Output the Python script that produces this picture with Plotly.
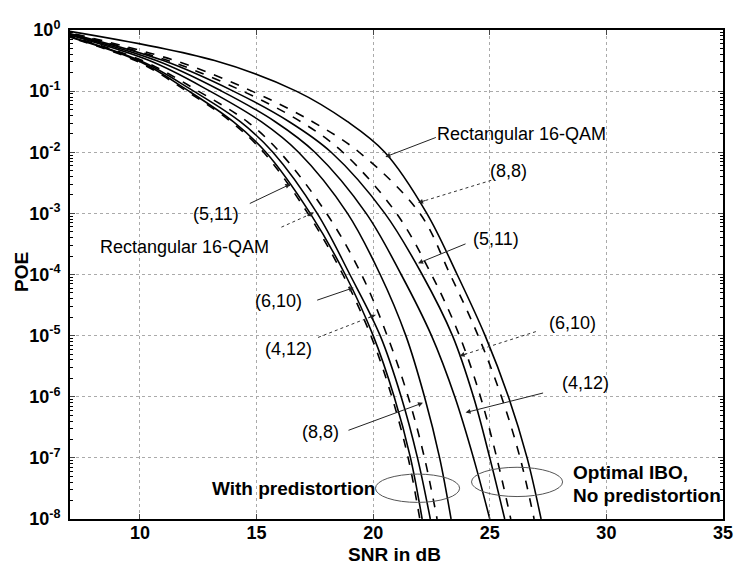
import plotly.graph_objects as go

# ---------------- data ----------------
poe_levels = [1.0, 0.316, 1e-1, 0.0316, 1e-2, 1e-3, 1e-4, 1e-5, 1e-6, 1e-7, 1e-8]

# With predistortion
snr_pd_511 = [5.9, 9.8, 12.0, 13.9, 15.3, 17.2, 18.7, 19.9, 20.8, 21.5, 22.0]      # dashed
snr_pd_rect = [5.95, 9.9, 12.1, 14.0, 15.4, 17.3, 18.8, 20.0, 20.9, 21.6, 22.1]    # solid
snr_pd_610 = [6.0, 10.0, 12.3, 14.3, 15.7, 17.6, 19.0, 20.3, 21.2, 21.9, 22.45]    # solid
snr_pd_412 = [6.1, 10.1, 12.5, 14.6, 16.0, 18.0, 19.5, 20.6, 21.5, 22.2, 22.74]    # dashed
snr_pd_88 = [6.2, 10.4, 13.0, 15.2, 16.8, 18.9, 20.3, 21.4, 22.2, 22.85, 23.34]    # solid

# Optimal IBO, no predistortion
snr_np_412 = [6.3, 10.7, 13.5, 15.8, 17.5, 19.7, 21.2, 22.5, 23.5, 24.3, 25.0]     # solid
snr_np_511 = [6.4, 11.0, 14.0, 16.4, 18.2, 20.5, 22.1, 23.4, 24.3, 25.0, 25.64]    # solid
snr_np_610 = [6.45, 11.2, 14.4, 16.9, 18.7, 21.0, 22.5, 23.7, 24.6, 25.3, 25.9]    # dashed
snr_np_88 = [6.5, 11.5, 14.8, 17.4, 19.4, 22.0, 23.3, 24.5, 25.5, 26.3, 26.9]      # dashed
snr_np_rect = [6.65, 13.2, 16.7, 18.9, 20.5, 22.3, 23.6, 24.8, 25.8, 26.6, 27.2]   # solid

x_ticks = [10, 15, 20, 25, 30, 35]
y_tick_vals = [1, 1e-1, 1e-2, 1e-3, 1e-4, 1e-5, 1e-6, 1e-7, 1e-8]
y_tick_text = ["10<sup>0</sup>", "10<sup>-1</sup>", "10<sup>-2</sup>", "10<sup>-3</sup>",
               "10<sup>-4</sup>", "10<sup>-5</sup>", "10<sup>-6</sup>", "10<sup>-7</sup>",
               "10<sup>-8</sup>"]

curves = [
    (snr_pd_511, "dash"), (snr_pd_rect, "solid"), (snr_pd_610, "solid"),
    (snr_pd_412, "dash"), (snr_pd_88, "solid"),
    (snr_np_412, "solid"), (snr_np_511, "solid"), (snr_np_610, "dash"),
    (snr_np_88, "dash"), (snr_np_rect, "solid"),
]

# ---------------- figure ----------------
# The page body has an 8px margin, so the figure is drawn 8px in from the
# window corner; all positions below are given in window pixels.
OFF = 8
W, H = 743 - OFF, 571 - OFF
L, R, T, B = 69.5, 729, 18, 519           # plot area in window pixels
FONT = "Liberation Sans, Arial, sans-serif"

def px(xp):
    return (xp - L) / (R - L)

def py(yp):
    return 1 - (yp - T) / (B - T)

fig = go.Figure()
for snr, dash in curves:
    fig.add_trace(go.Scatter(
        x=snr, y=poe_levels, mode="lines",
        line=dict(color="black", width=1.6, dash=dash, shape="spline", smoothing=1.0),
        showlegend=False, hoverinfo="skip"))

annotations = []
shapes = []

def text(t, x, y, bold=False, anchor="center", size=18):
    annotations.append(dict(
        text=("<b>%s</b>" % t) if bold else t, x=px(x), y=py(y), xref="paper", yref="paper",
        showarrow=False, xanchor=anchor, yanchor="middle",
        font=dict(family=FONT, size=size, color="black")))

def arrow(tail, head, dashed=False):
    if dashed:
        shapes.append(dict(type="line", xref="paper", yref="paper",
                           x0=px(tail[0]), y0=py(tail[1]), x1=px(head[0]), y1=py(head[1]),
                           line=dict(color="#333", width=1, dash="dot")))
        dx, dy = tail[0] - head[0], tail[1] - head[1]
        n = (dx * dx + dy * dy) ** 0.5
        annotations.append(dict(x=px(head[0]), y=py(head[1]), xref="paper", yref="paper",
                                ax=dx / n * 9, ay=dy / n * 9, text="", showarrow=True,
                                arrowhead=2, arrowsize=1, arrowwidth=1, arrowcolor="#222"))
    else:
        annotations.append(dict(x=px(head[0]), y=py(head[1]), xref="paper", yref="paper",
                                ax=tail[0] - head[0], ay=tail[1] - head[1], text="",
                                showarrow=True, arrowhead=2, arrowsize=1, arrowwidth=1,
                                arrowcolor="#222"))

# right group (no predistortion)
text("Rectangular 16-QAM", 525, 125)
arrow((440, 128), (388, 148))
text("(8,8)", 512, 162)
arrow((495, 172), (421, 195), dashed=True)
text("(5,11)", 500, 232)
arrow((470, 237), (421, 257))
text("(6,10)", 577, 318)
arrow((540, 327), (463, 352), dashed=True)
text("(4,12)", 590, 380)
arrow((548, 390), (469, 410))

# left group (with predistortion)
text("(5,11)", 217, 207)
arrow((250, 196), (292, 176))
arrow((283, 220), (316, 205), dashed=True)
text("Rectangular 16-QAM", 185, 240)
text("(6,10)", 280, 296)
arrow((318, 295), (356, 282))
text("(4,12)", 290, 345)
arrow((320, 333), (378, 310), dashed=True)
text("(8,8)", 322, 430)
arrow((350, 428), (426, 400))

text("With predistortion", 295, 488, bold=True, size=19)
text("Optimal IBO,", 575, 471, bold=True, anchor="left", size=19)
text("No predistortion", 575, 495, bold=True, anchor="left", size=19)

# ellipses
shapes.append(dict(type="circle", xref="paper", yref="paper",
                   x0=px(378), x1=px(463), y0=py(502), y1=py(473),
                   line=dict(color="#555", width=1)))
shapes.append(dict(type="circle", xref="paper", yref="paper",
                   x0=px(475), x1=px(567), y0=py(496), y1=py(466),
                   line=dict(color="#555", width=1)))

# axis titles
text("SNR in dB", 397, 555, bold=True, size=19)
annotations.append(dict(text="<b>POE</b>", x=px(20), y=py(266), xref="paper", yref="paper",
                        showarrow=False, textangle=-90, xanchor="center", yanchor="middle",
                        font=dict(family=FONT, size=19, color="black")))

fig.update_layout(
    width=W, height=H,
    margin=dict(l=L - OFF, r=W - (R - OFF), t=T - OFF, b=H - (B - OFF)),
    paper_bgcolor="white", plot_bgcolor="white",
    annotations=annotations, shapes=shapes,
    font=dict(family=FONT, color="black"),
    xaxis=dict(range=[7, 35], tickmode="array", tickvals=x_ticks,
               ticktext=["<b>%d</b>" % v for v in x_ticks],
               tickfont=dict(size=18, family=FONT), ticks="inside", ticklen=5,
               ticklabelstandoff=-4, ticklabeloverflow="allow",
               showline=True, linewidth=2, linecolor="black", mirror="ticks",
               showgrid=True, gridcolor="#aaa", griddash="dot", gridwidth=1,
               zeroline=False),
    yaxis=dict(type="log", range=[-8, 0], tickmode="array", tickvals=y_tick_vals,
               ticktext=["<b>%s</b>" % t for t in y_tick_text],
               tickfont=dict(size=18, family=FONT), ticks="inside", ticklen=5,
               ticklabelstandoff=4, ticklabeloverflow="allow",
               showline=True, linewidth=2, linecolor="black", mirror="ticks",
               showgrid=True, gridcolor="#aaa", griddash="dot", gridwidth=1,
               minor=dict(ticks="inside", ticklen=3, dtick="D1", tickcolor="black",
                          showgrid=False),
               zeroline=False),
)

fig.write_html("out.html")
